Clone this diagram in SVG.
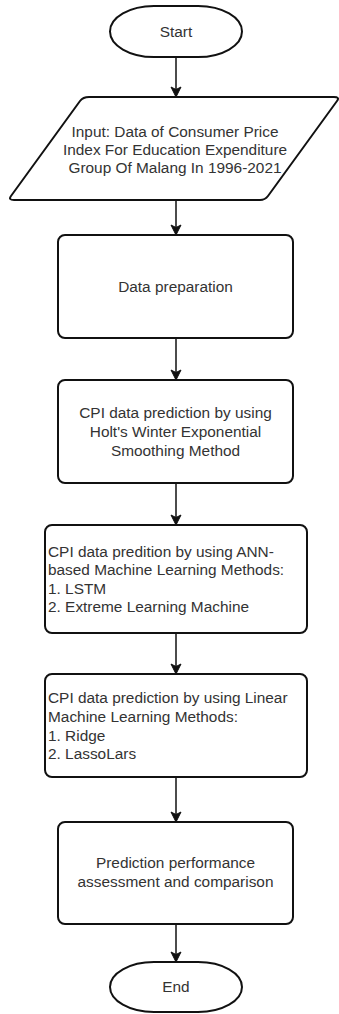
<svg xmlns="http://www.w3.org/2000/svg" width="339" height="1014" viewBox="0 0 339 1014">
  <style>
    .shape { fill: #ffffff; stroke: #111111; stroke-width: 2; }
    .label { font-family: "Liberation Sans", Arial, sans-serif; font-size: 15.4px; fill: #333333; }
    .mid { text-anchor: middle; }
    .edge { fill: none; stroke: #111111; stroke-width: 1.5; }
  </style>
  <defs>
    <marker id="arrow" viewBox="0 0 12 12" refX="11" refY="6" markerWidth="12" markerHeight="12" markerUnits="userSpaceOnUse" orient="auto">
      <path d="M1,1 L11,6 L1,11 L3.5,6 Z" fill="#111111" stroke="#111111" stroke-width="1"/>
    </marker>
  </defs>
  <rect width="339" height="1014" fill="#ffffff"/>

  <g id="connectors">
    <line class="edge" x1="176" y1="57" x2="176" y2="97" marker-end="url(#arrow)"/>
    <line class="edge" x1="176" y1="200" x2="176" y2="235" marker-end="url(#arrow)"/>
    <line class="edge" x1="176" y1="338" x2="176" y2="380" marker-end="url(#arrow)"/>
    <line class="edge" x1="176" y1="483" x2="176" y2="525" marker-end="url(#arrow)"/>
    <line class="edge" x1="176" y1="633" x2="176" y2="674" marker-end="url(#arrow)"/>
    <line class="edge" x1="176" y1="777" x2="176" y2="822" marker-end="url(#arrow)"/>
    <line class="edge" x1="176" y1="924" x2="176" y2="962" marker-end="url(#arrow)"/>
  </g>

  <g id="start">
    <rect class="shape" x="110" y="6" width="132" height="51" rx="44" ry="25.5"/>
    <text class="label mid" x="176" y="37">Start</text>
  </g>

  <g id="input">
    <path class="shape" d="M89,97 L334,97 Q340,97 337,101 L268,196 Q265,200 260,200 L14,200 Q8,200 11,196 L80,101 Q83,97 89,97 Z"/>
    <text class="label mid" x="175" y="137">Input: Data of Consumer Price</text>
    <text class="label mid" x="175" y="155">Index For Education Expenditure</text>
    <text class="label mid" x="175" y="173">Group Of Malang In 1996-2021</text>
  </g>

  <g id="preparation">
    <rect class="shape" x="58" y="235" width="235" height="103" rx="7"/>
    <text class="label mid" x="175.5" y="292">Data preparation</text>
  </g>

  <g id="holt-winters">
    <rect class="shape" x="58" y="380" width="235" height="103" rx="7"/>
    <text class="label mid" x="175.5" y="418">CPI data prediction by using</text>
    <text class="label mid" x="175.5" y="437">Holt's Winter Exponential</text>
    <text class="label mid" x="175.5" y="456">Smoothing Method</text>
  </g>

  <g id="ann-methods">
    <rect class="shape" x="45" y="525" width="262" height="108" rx="7"/>
    <text class="label" x="48" y="557">CPI data predition by using ANN-</text>
    <text class="label" x="48" y="575">based Machine Learning Methods:</text>
    <text class="label" x="48" y="594">1. LSTM</text>
    <text class="label" x="48" y="612">2. Extreme Learning Machine</text>
  </g>

  <g id="linear-methods">
    <rect class="shape" x="45" y="674" width="262" height="103" rx="7"/>
    <text class="label" x="48" y="703">CPI data prediction by using Linear</text>
    <text class="label" x="48" y="722">Machine Learning Methods:</text>
    <text class="label" x="48" y="741">1. Ridge</text>
    <text class="label" x="48" y="759">2. LassoLars</text>
  </g>

  <g id="assessment">
    <rect class="shape" x="58" y="822" width="235" height="102" rx="7"/>
    <text class="label mid" x="175.5" y="868">Prediction performance</text>
    <text class="label mid" x="175.5" y="887">assessment and comparison</text>
  </g>

  <g id="end">
    <rect class="shape" x="110" y="962" width="132" height="50" rx="44" ry="25"/>
    <text class="label mid" x="176" y="992">End</text>
  </g>
</svg>
